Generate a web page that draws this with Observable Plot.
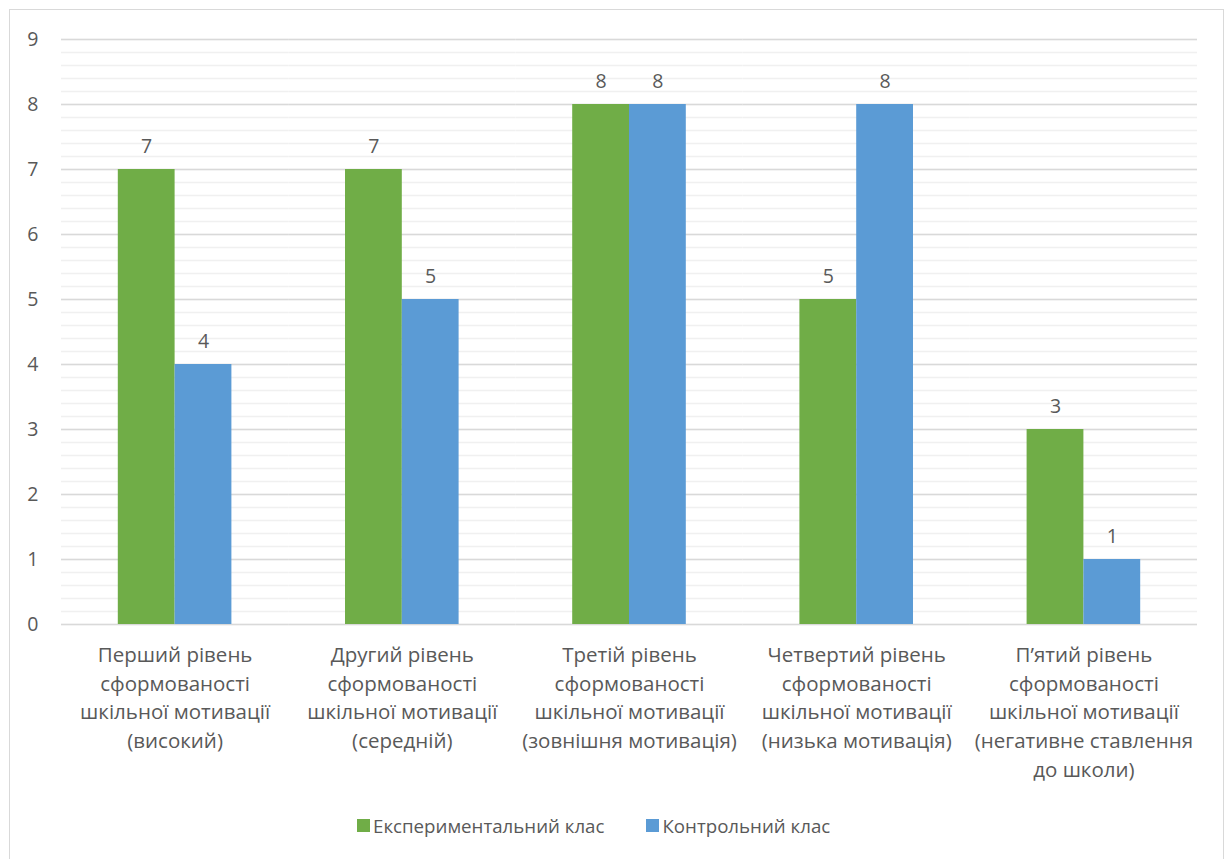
<!DOCTYPE html>
<html>
<head>
<meta charset="utf-8">
<script src="https://cdn.jsdelivr.net/npm/d3@7"></script>
<script src="https://cdn.jsdelivr.net/npm/@observablehq/plot@0.6"></script>
<style>
  html, body { margin: 0; padding: 0; background: #fff; }
  #wrap { position: relative; width: 1227px; height: 859px; overflow: hidden; font-family: "Open Sans", sans-serif; color: #595959; }
  #border { position: absolute; left: 9px; top: 9px; width: 1215px; height: 900px; border: 1px solid #d9d9d9; box-sizing: border-box; }
  #chart { position: absolute; left: 0; top: 0; }
  #legend { position: absolute; left: 357px; top: 813px; display: flex; align-items: center; font-size: 18.7px; white-space: nowrap; }
  #legend .item { display: flex; align-items: center; margin-right: 42px; }
  #legend .sw { width: 13px; height: 13px; margin-right: 3px; }
</style>
</head>
<body>
<div id="wrap">
  <div id="border"></div>
  <div id="chart"></div>
  <div id="legend"></div>
</div>
<script>
// Levels of school motivation (category labels, line-broken as displayed)
const categories = [
  "Перший рівень\nсформованості\nшкільної мотивації\n(високий)",
  "Другий рівень\nсформованості\nшкільної мотивації\n(середній)",
  "Третій рівень\nсформованості\nшкільної мотивації\n(зовнішня мотивація)",
  "Четвертий рівень\nсформованості\nшкільної мотивації\n(низька мотивація)",
  "П’ятий рівень\nсформованості\nшкільної мотивації\n(негативне ставлення\nдо школи)"
];

// Series
const seriesNames = ["Експериментальний клас", "Контрольний клас"];
const seriesColors = ["#70AD47", "#5B9BD5"];
const experimental = [7, 7, 8, 5, 3];
const control = [4, 5, 8, 8, 1];

// Axis ticks
const majorTicks = [0, 1, 2, 3, 4, 5, 6, 7, 8, 9];
const minorTicks = d3.range(0, 9.001, 0.2).map(v => +v.toFixed(1));

const seriesValues = [experimental, control];
const rows = [];
categories.forEach((c, i) => {
  seriesNames.forEach((s, j) => rows.push({category: c, series: s, value: seriesValues[j][i]}));
});

const textColor = "#595959";

const chart = Plot.plot({
  width: 1227,
  height: 800,
  marginTop: 39,
  marginBottom: 176,
  marginLeft: 61,
  marginRight: 30,
  style: {fontFamily: "Open Sans, sans-serif", fontSize: "19px", color: textColor, background: "transparent", overflow: "visible"},
  fx: {domain: categories, padding: 0, round: false, axis: null, label: null},
  x: {domain: seriesNames, paddingInner: 0, paddingOuter: 1, round: false, axis: null},
  y: {domain: [0, 9], axis: null},
  color: {domain: seriesNames, range: seriesColors},
  marks: [
    Plot.ruleY(minorTicks, {stroke: "#f0f0f0", strokeWidth: 1.3}),
    Plot.ruleY(majorTicks, {stroke: "#d9d9d9", strokeWidth: 1.3}),
    Plot.barY(rows, {fx: "category", x: "series", y: "value", fill: "series"}),
    Plot.text(rows, {fx: "category", x: "series", y: "value", text: d => String(d.value), dy: -23, fill: textColor, fontSize: 19.5}),
    Plot.text(categories, {fx: d => d, text: d => d, frameAnchor: "bottom", lineAnchor: "top", lineHeight: 1.4, dy: 17, fill: textColor, fontSize: 20.5}),
    Plot.axisY({ticks: majorTicks, tickSize: 0, tickPadding: 23, fontSize: 19.5, fill: textColor, label: null})
  ]
});
document.getElementById("chart").appendChild(chart);

// Legend
const legend = document.getElementById("legend");
seriesNames.forEach((name, i) => {
  const item = document.createElement("div");
  item.className = "item";
  const sw = document.createElement("div");
  sw.className = "sw";
  sw.style.background = seriesColors[i];
  const label = document.createElement("span");
  label.textContent = name;
  item.appendChild(sw);
  item.appendChild(label);
  legend.appendChild(item);
});
</script>
</body>
</html>
